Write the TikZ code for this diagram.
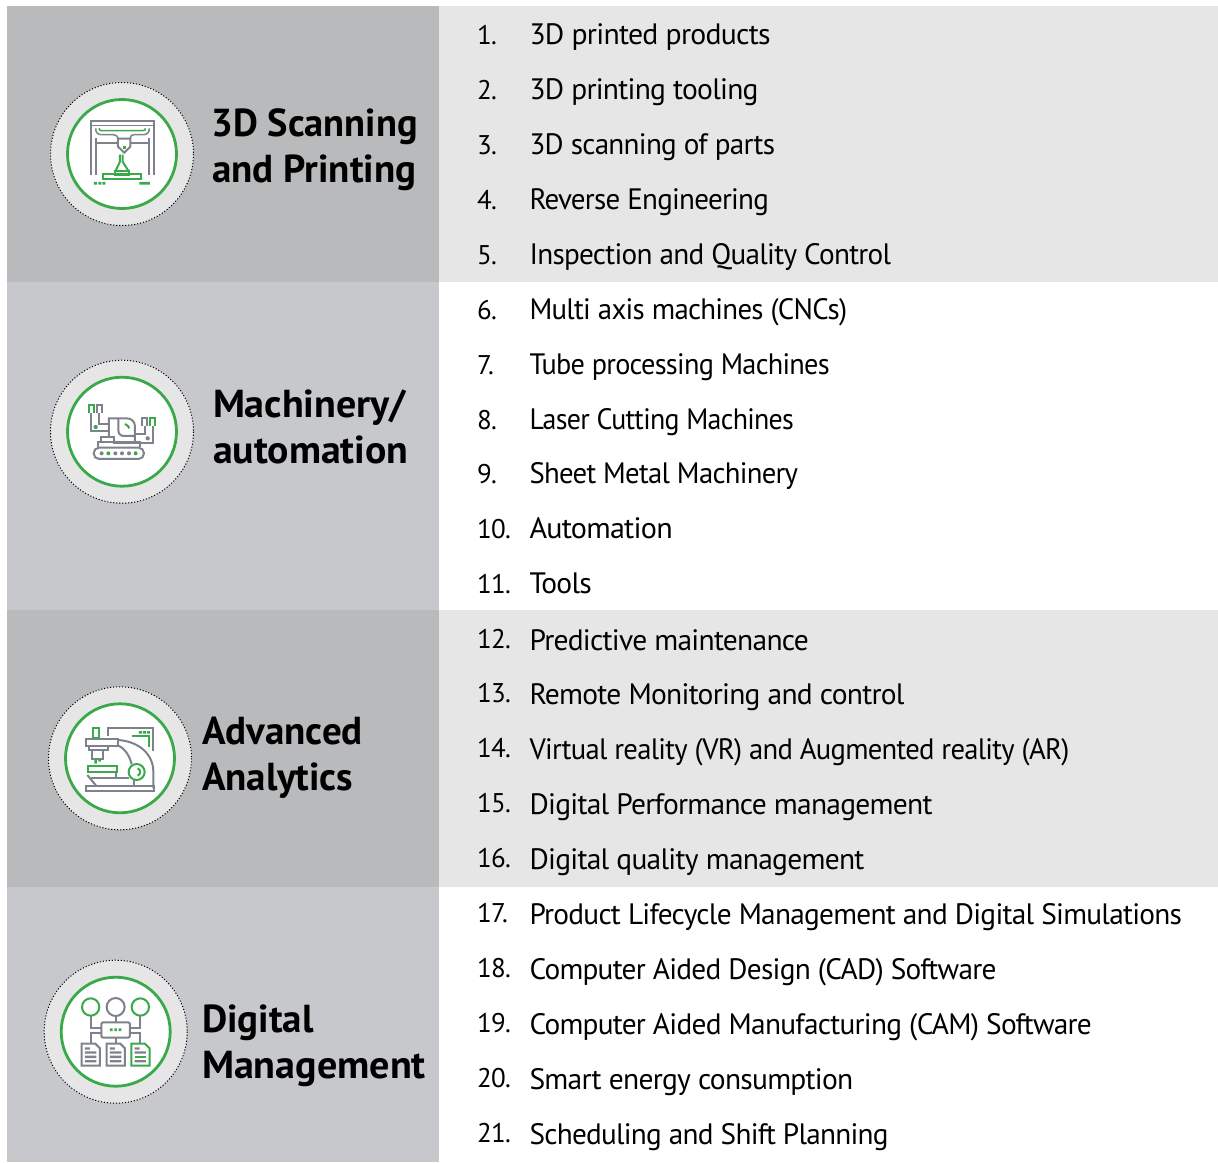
\documentclass[tikz,border=0pt]{standalone}
\usepackage{fontspec}
\setmainfont{PT Sans}
\newfontfamily\itmfont[LetterSpace=-2.5]{PT Sans}
\definecolor{bandA}{HTML}{B9BABC}
\definecolor{bandB}{HTML}{C6C8CC}
\definecolor{pale}{HTML}{E6E6E6}
\definecolor{leaf}{HTML}{39A949}
\definecolor{steel}{HTML}{7E828A}
\tikzset{
  every node/.style={inner sep=0pt,outer sep=0pt},
  num/.style={anchor=base west,font=\fontsize{27}{30}\selectfont\itmfont,text=black},
  itm/.style={anchor=base west,font=\fontsize{29.5}{32}\selectfont\itmfont,text=black},
  ttl/.style={anchor=base west,font=\fontsize{39}{42}\selectfont\bfseries,text=black},
  gy/.style={draw=steel,line width=2pt,line join=miter},
  gn/.style={draw=leaf,line width=2pt,line join=miter},
  gyf/.style={fill=steel,draw=none},
  gnf/.style={fill=leaf,draw=none},
}
\newcommand{\badge}[3]{% cx cy
  \fill[pale] (#1,#2) circle[radius=71.5];
  \draw[black,line width=1pt,dash pattern=on 1.1pt off 1.9pt] (#1,#2) circle[radius=71.5];
  \fill[white] (#1,#2) circle[radius=55];
  \draw[leaf,line width=2.8pt] (#1,#2) circle[radius=54.5];
}
\newcommand{\litem}[5][1]{%
  \node[num] (n#2) at (477,#3+#4) {#2.};
  \node[itm,xscale=#1] (t#2) at (529.5,#3+9.5) {#5};
}
\begin{document}
\begin{tikzpicture}[x=1pt,y=-1pt]
\useasboundingbox (0,0) rectangle (1218,1162);
\fill[white] (0,0) rectangle (1218,1162);
\fill[bandA] (7,6) rectangle (439,282);
\fill[bandB] (7,282) rectangle (439,610);
\fill[bandA] (7,610) rectangle (439,887);
\fill[bandB] (7,887) rectangle (439,1162);
\fill[pale] (439,6) rectangle (1218,282);
\fill[pale] (439,610) rectangle (1218,887);

\badge{122}{154}{}
\badge{122}{431.7}{}
\badge{120}{758.3}{}
\badge{115.7}{1031.7}{}

% icon 1
\begin{scope}[shift={(30,70)},x=0.3333pt,y=-0.3333pt]
 \draw[gy] (184,316)--(184,152)--(371,152)--(371,316);
 \draw[gy,line width=0.8pt] (184,165)--(371,165);
 \draw[gy] (197,316)--(197,205) (358,316)--(358,205);
 \draw[gy] (197,219)--(266,219) (300,219)--(358,219);
 \draw[gn,line width=1.5pt] (207,175) .. controls (207,182) and (212,182) .. (218,182)--(338,182) .. controls (345,182) and (346,180) .. (346,175);
 \draw[gy,line width=1.5pt] (197,175) .. controls (197,190) and (205,194) .. (215,194)--(250,194) .. controls (258,194) and (262,198) .. (265,205);
 \draw[gy,line width=1.5pt] (358,175) .. controls (358,190) and (350,194) .. (340,194)--(312,194) .. controls (305,194) and (301,198) .. (300,205);
 \draw[gy] (264,206)--(301,206)--(301,230)--(283,248)--(264,230)--cycle;
 \fill[gnf] (279,228) rectangle (288,237);
 \draw[gn] (270,254)--(270,275)--(256,304) (278,254)--(278,275)--(296,304);
 \draw[gn] (220,313) rectangle (333,327);
 \draw[gn] (254,303) rectangle (298,315);
 \fill[gnf] (192,336) rectangle (201,344) (205,336) rectangle (214,344) (217,336) rectangle (226,344) (328,336) rectangle (360,344);
\end{scope}

% icon 2
\begin{scope}[shift={(30,350)},x=0.3333pt,y=-0.3333pt]
 \draw[gn] (178,188)--(178,165)--(192,165)--(192,188);
 \draw[gy] (200,188)--(200,165)--(215,165)--(215,188);
 \draw[gy] (337,228)--(337,205)--(352,205)--(352,228);
 \draw[gn] (361,228)--(361,205)--(376,205)--(376,228);
 \draw[gy] (184,188)--(184,243)--(237,243);
 \draw[gy] (208,188)--(208,222)--(237,222);
 \draw[gy] (237,262)--(237,205)--(290,205) .. controls (305,205) and (315,215) .. (315,230)--(315,278);
 \draw[gy] (265,205)--(265,240) .. controls (265,252) and (272,258) .. (282,258)--(315,258);
 \draw[gn] (285,222) .. controls (292,225) and (296,229) .. (298,235);
 \fill[leaf] (197,231) circle[radius=6.5];
 \fill[steel] (353,265) circle[radius=6.5];
 \draw[gy] (345,228)--(345,252)--(315,252);
 \draw[gy] (368,228)--(368,278)--(252,278)--(252,262)--(212,262)--(212,278);
 \draw[gy] (205,292)--(205,277)--(330,277)--(330,292);
 \draw[gy,rounded corners=5.5pt] (191,293) rectangle (342,327);
 \fill[steel] (215,310) circle[radius=6] (256,310) circle[radius=6] (276,310) circle[radius=6] (297,310) circle[radius=6];
 \fill[leaf] (235,310) circle[radius=6] (317,310) circle[radius=6];
\end{scope}

% icon 3
\begin{scope}[shift={(30,675)},x=0.3333pt,y=-0.3333pt]
 \draw[gn] (188,158) rectangle (208,190);
 \draw[gy] (233,182)--(233,158)--(370,158)--(370,228);
 \draw[gn] (305,184)--(358,184)--(358,215);
 \fill[gnf] (327,168) rectangle (336,176) (339,168) rectangle (348,176) (351,168) rectangle (360,176);
 \draw[gy] (168,193) rectangle (265,212);
 \draw[gy] (176,212)--(176,224)--(235,224)--(235,212);
 \draw[gy] (187,224)--(187,252)--(220,252)--(220,224);
 \fill[gnf] (193,252) rectangle (201,266) (205,252) rectangle (213,260);
 \draw[gy] (265,195) .. controls (330,200) and (370,240) .. (370,290)--(370,340);
 \draw[gy] (265,212) .. controls (285,220) and (300,245) .. (305,268);
 \draw[gn] (175,273) rectangle (262,291);
 \draw[gn] (320,291) circle[radius=24];
 \draw[gn] (323,280) .. controls (333,284) and (333,298) .. (323,302);
 \draw[gy] (258,295)--(258,309);
 \draw[gy] (172,300)--(200,334);
 \draw[gy] (182,309)--(296,309);
 \draw[gy] (313,315)--(313,334);
 \draw[gy] (168,333) rectangle (371,348);
\end{scope}

% icon 4
\begin{scope}[shift={(30,950)},x=0.3333pt,y=-0.3333pt]
 \draw[gn] (182,171) circle[radius=26];
 \draw[gy] (257,171) circle[radius=27];
 \draw[gn] (331,171) circle[radius=26];
 \draw[gy] (182,198)--(182,235)--(212,235);
 \draw[gy] (331,198)--(331,235)--(303,235);
 \draw[gy] (257,198)--(257,216);
 \draw[gy,rounded corners=2pt] (214,217) rectangle (300,263);
 \fill[gnf] (240,235) rectangle (248,243) (253,235) rectangle (261,243) (266,235) rectangle (274,243);
 \draw[gy] (212,248)--(182,248)--(182,280);
 \draw[gy] (303,248)--(331,248)--(331,280);
 \draw[gy] (257,263)--(257,280);
 \draw[gy] (155,281)--(196,281)--(210,295)--(210,347)--(155,347)--cycle;
 \draw[gy] (230,281)--(271,281)--(285,295)--(285,347)--(230,347)--cycle;
 \draw[gn] (304,281)--(345,281)--(359,295)--(359,347)--(304,347)--cycle;
 \fill[gyf] (165,292) rectangle (180,299) (165,304) rectangle (199,311) (165,317) rectangle (199,324) (165,330) rectangle (199,337);
 \fill[gyf] (240,292) rectangle (255,299) (240,304) rectangle (274,311) (240,317) rectangle (274,324) (240,330) rectangle (274,337);
 \fill[gyf] (314,292) rectangle (329,299) (314,304) rectangle (348,311) (314,330) rectangle (348,337);
 \fill[gnf] (314,317) rectangle (348,324);
\end{scope}

\node[ttl,xscale=0.985] (h1a) at (211.5,136) {3D Scanning};
\node[ttl] (h1b) at (212,182) {and Printing};
\node[ttl,xscale=1.025] (h2a) at (213,417) {Machinery/};
\node[ttl,xscale=1.02] (h2b) at (213,463) {automation};
\node[ttl] (h3a) at (202,744) {Advanced};
\node[ttl] (h3b) at (202,790) {Analytics};
\node[ttl] (h4a) at (202,1032) {Digital};
\node[ttl,xscale=1.027] (h4b) at (202,1078) {Management};

\litem[1.008]{1}{35}{9}{3D printed products}
\litem{2}{90}{9}{3D printing tooling}
\litem[0.988]{3}{145}{9}{3D scanning of parts}
\litem[0.983]{4}{200}{9}{Reverse Engineering}
\litem[0.99]{5}{255}{9}{Inspection and Quality Control}
\litem[0.978]{6}{310}{9}{Multi axis machines (CNCs)}
\litem[0.958]{7}{365}{9}{Tube processing Machines}
\litem[0.946]{8}{420}{9}{Laser Cutting Machines}
\litem[0.974]{9}{474}{9}{Sheet Metal Machinery}
\litem[1.02]{10}{529}{9}{Automation}
\litem{11}{584}{9}{Tools}
\litem{12}{641}{7}{Predictive maintenance}
\litem{13}{695}{7}{Remote Monitoring and control}
\litem[0.971]{14}{750}{7}{Virtual reality (VR) and Augmented reality (AR)}
\litem{15}{805}{7}{Digital Performance management}
\litem{16}{860}{7}{Digital quality management}
\litem[0.994]{17}{915}{7}{Product Lifecycle Management and Digital Simulations}
\litem[0.994]{18}{970}{7}{Computer Aided Design (CAD) Software}
\litem[0.995]{19}{1025}{7}{Computer Aided Manufacturing (CAM) Software}
\litem{20}{1080}{7}{Smart energy consumption}
\litem[0.99]{21}{1135}{7}{Scheduling and Shift Planning}
\end{tikzpicture}
\end{document}
